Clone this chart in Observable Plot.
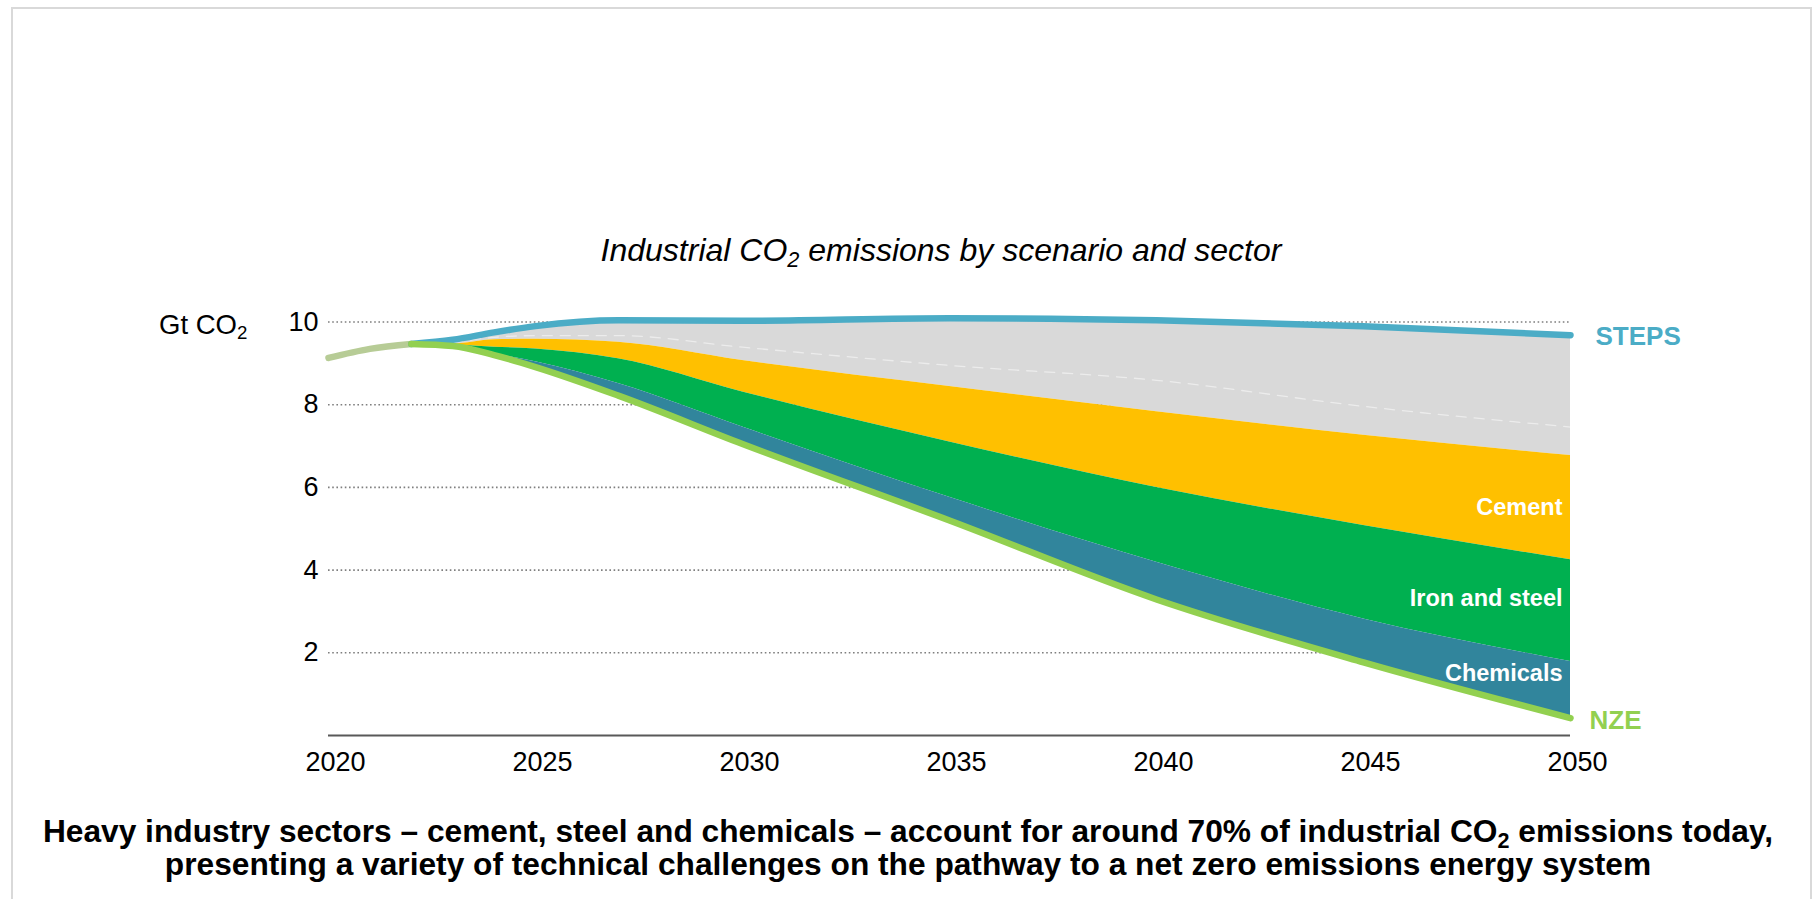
<!DOCTYPE html>
<html>
<head>
<meta charset="utf-8">
<script src="https://cdn.jsdelivr.net/npm/d3@7"></script>
<script src="https://cdn.jsdelivr.net/npm/@observablehq/plot@0.6"></script>
<style>
  html, body { margin: 0; padding: 0; background: #fff; }
  body { font-family: "Liberation Sans", Arial, sans-serif; color: #000; }
  #page { position: relative; width: 1816px; height: 899px; overflow: hidden; background: #fff; }
  #frame { position: absolute; left: 11px; top: 7px; width: 1801px; height: 1000px; box-sizing: border-box;
           border: 2px solid #d9d9d9; border-bottom: none; }
  #title { position: absolute; left: 941px; top: 232px; transform: translateX(-50%); white-space: nowrap;
           font-size: 32px; font-style: italic; line-height: 1.15; }
  #ylabel { position: absolute; left: 159px; top: 309px; white-space: nowrap; font-size: 27.5px; line-height: 1.15; }
  sub { font-size: 68%; vertical-align: -0.28em; line-height: 0; }
  #chart { position: absolute; left: 0; top: 280px; }
  #caption { position: absolute; left: 0; width: 1816px; top: 815px; text-align: center;
             font-size: 31.7px; font-weight: bold; line-height: 32.5px; }
</style>
</head>
<body>
<div id="page">
  <div id="frame"></div>
  <div id="title">Industrial CO<sub>2</sub> emissions by scenario and sector</div>
  <div id="ylabel">Gt CO<sub>2</sub></div>
  <div id="chart"></div>
  <div id="caption">Heavy industry sectors – cement, steel and chemicals – account for around 70% of industrial CO<sub>2</sub> emissions today,<br>presenting a variety of technical challenges on the pathway to a net zero emissions energy system</div>
</div>
<script>
// ---- data (Gt CO2) ----
const histYears = [2020, 2021, 2022];
const histValues = [9.13, 9.35, 9.47];

const years        = [2022, 2023, 2024, 2025, 2027, 2030, 2035, 2040, 2045, 2050];
const stepsValues  = [9.47, 9.57, 9.75, 9.90, 10.04, 10.03, 10.09, 10.04, 9.90, 9.68];
const otherSplit   = [9.47, 9.50, 9.63, 9.67, 9.67, 9.39, 8.95, 8.59, 7.96, 7.46];
const cementTop    = [9.47, 9.47, 9.57, 9.58, 9.51, 9.07, 8.44, 7.83, 7.26, 6.77];
const ironSteelTop = [9.47, 9.45, 9.39, 9.35, 9.11, 8.31, 7.10, 6.00, 5.08, 4.25];
const chemicalsTop = [9.47, 9.43, 9.23, 9.04, 8.51, 7.46, 5.76, 4.19, 2.82, 1.79];
const nzeValues    = [9.47, 9.42, 9.20, 8.91, 8.22, 7.05, 5.20, 3.29, 1.77, 0.42];

const sectorNames = ["Cement", "Iron and steel", "Chemicals"];
const xTicks = [2020, 2025, 2030, 2035, 2040, 2045, 2050];
const yTicks = [2, 4, 6, 8, 10];
const scenarioNames = ["STEPS", "NZE"];

// ---- tables built from the arrays ----
const hist = histYears.map((year, i) => ({year, value: histValues[i]}));
const rows = years.map((year, i) => ({
  year,
  steps: stepsValues[i],
  other: otherSplit[i],
  cement: cementTop[i],
  iron: ironSteelTop[i],
  chem: chemicalsTop[i],
  nze: nzeValues[i]
}));
const last = rows[rows.length - 1];
const sectorLabels = [
  {name: sectorNames[0], year: last.year, value: (last.cement + last.iron) / 2},
  {name: sectorNames[1], year: last.year, value: (last.iron + last.chem) / 2},
  {name: sectorNames[2], year: last.year, value: (last.chem + last.nze) / 2}
];
const labelShift = [0, -12, -16];

const curve = "monotone-x";
const C = {
  other: "#d9d9d9", cement: "#ffc000", iron: "#00b050", chem: "#31859c",
  steps: "#4bacc6", nze: "#92d050", hist: "#b7cc96"
};

const chart = Plot.plot({
  width: 1816,
  height: 520,
  marginLeft: 328,
  marginRight: 246,
  marginTop: 41.5,
  marginBottom: 65,
  style: {fontFamily: "'Liberation Sans', Arial, sans-serif", background: "transparent", overflow: "visible", color: "#000"},
  x: {domain: [2020, 2050]},
  y: {domain: [0, 10]},
  marks: [
    Plot.ruleY(yTicks, {stroke: "#7f7f7f", strokeWidth: 1.6, strokeDasharray: "1.6 2.6"}),
    Plot.areaY(rows, {x: "year", y1: "cement", y2: "steps", fill: C.other, curve}),
    Plot.areaY(rows, {x: "year", y1: "iron", y2: "cement", fill: C.cement, curve}),
    Plot.areaY(rows, {x: "year", y1: "chem", y2: "iron", fill: C.iron, curve}),
    Plot.areaY(rows, {x: "year", y1: "nze", y2: "chem", fill: C.chem, curve}),
    Plot.line(rows.slice(1), {x: "year", y: "other", stroke: "#ffffff", strokeOpacity: 0.5, strokeWidth: 1.3, strokeDasharray: "10 8", curve}),
    Plot.ruleY([0], {x1: 2020, x2: 2050, stroke: "#595959", strokeWidth: 2}),
    Plot.line(hist, {x: "year", y: "value", stroke: C.hist, strokeWidth: 6.5, strokeLinecap: "round", curve}),
    Plot.line(rows, {x: "year", y: "steps", stroke: C.steps, strokeWidth: 6.5, strokeLinecap: "round", strokeLinejoin: "round", curve}),
    Plot.line(rows, {x: "year", y: "nze", stroke: C.nze, strokeWidth: 6.5, strokeLinecap: "round", strokeLinejoin: "round", curve}),
    Plot.axisX({ticks: xTicks, tickSize: 0, tickPadding: 16, fontSize: 27, dx: 7, tickFormat: d => String(d), label: null}),
    Plot.axisY({ticks: yTicks, tickSize: 0, tickPadding: 10, fontSize: 27, tickFormat: d => String(d), label: null}),
    ...sectorLabels.map((d, i) => Plot.text([d], {x: "year", y: "value", text: "name", textAnchor: "end",
      dx: -8, dy: labelShift[i], fill: "#ffffff", fontSize: 23.5, fontWeight: "bold"})),
    Plot.text([{name: scenarioNames[0], year: last.year, value: last.steps}], {x: "year", y: "value", text: "name",
      textAnchor: "start", dx: 25, dy: 1, fill: C.steps, fontSize: 26, fontWeight: "bold"}),
    Plot.text([{name: scenarioNames[1], year: last.year, value: last.nze}], {x: "year", y: "value", text: "name",
      textAnchor: "start", dx: 19, dy: 3, fill: C.nze, fontSize: 26, fontWeight: "bold"})
  ]
});
document.getElementById("chart").appendChild(chart);
</script>
</body>
</html>
